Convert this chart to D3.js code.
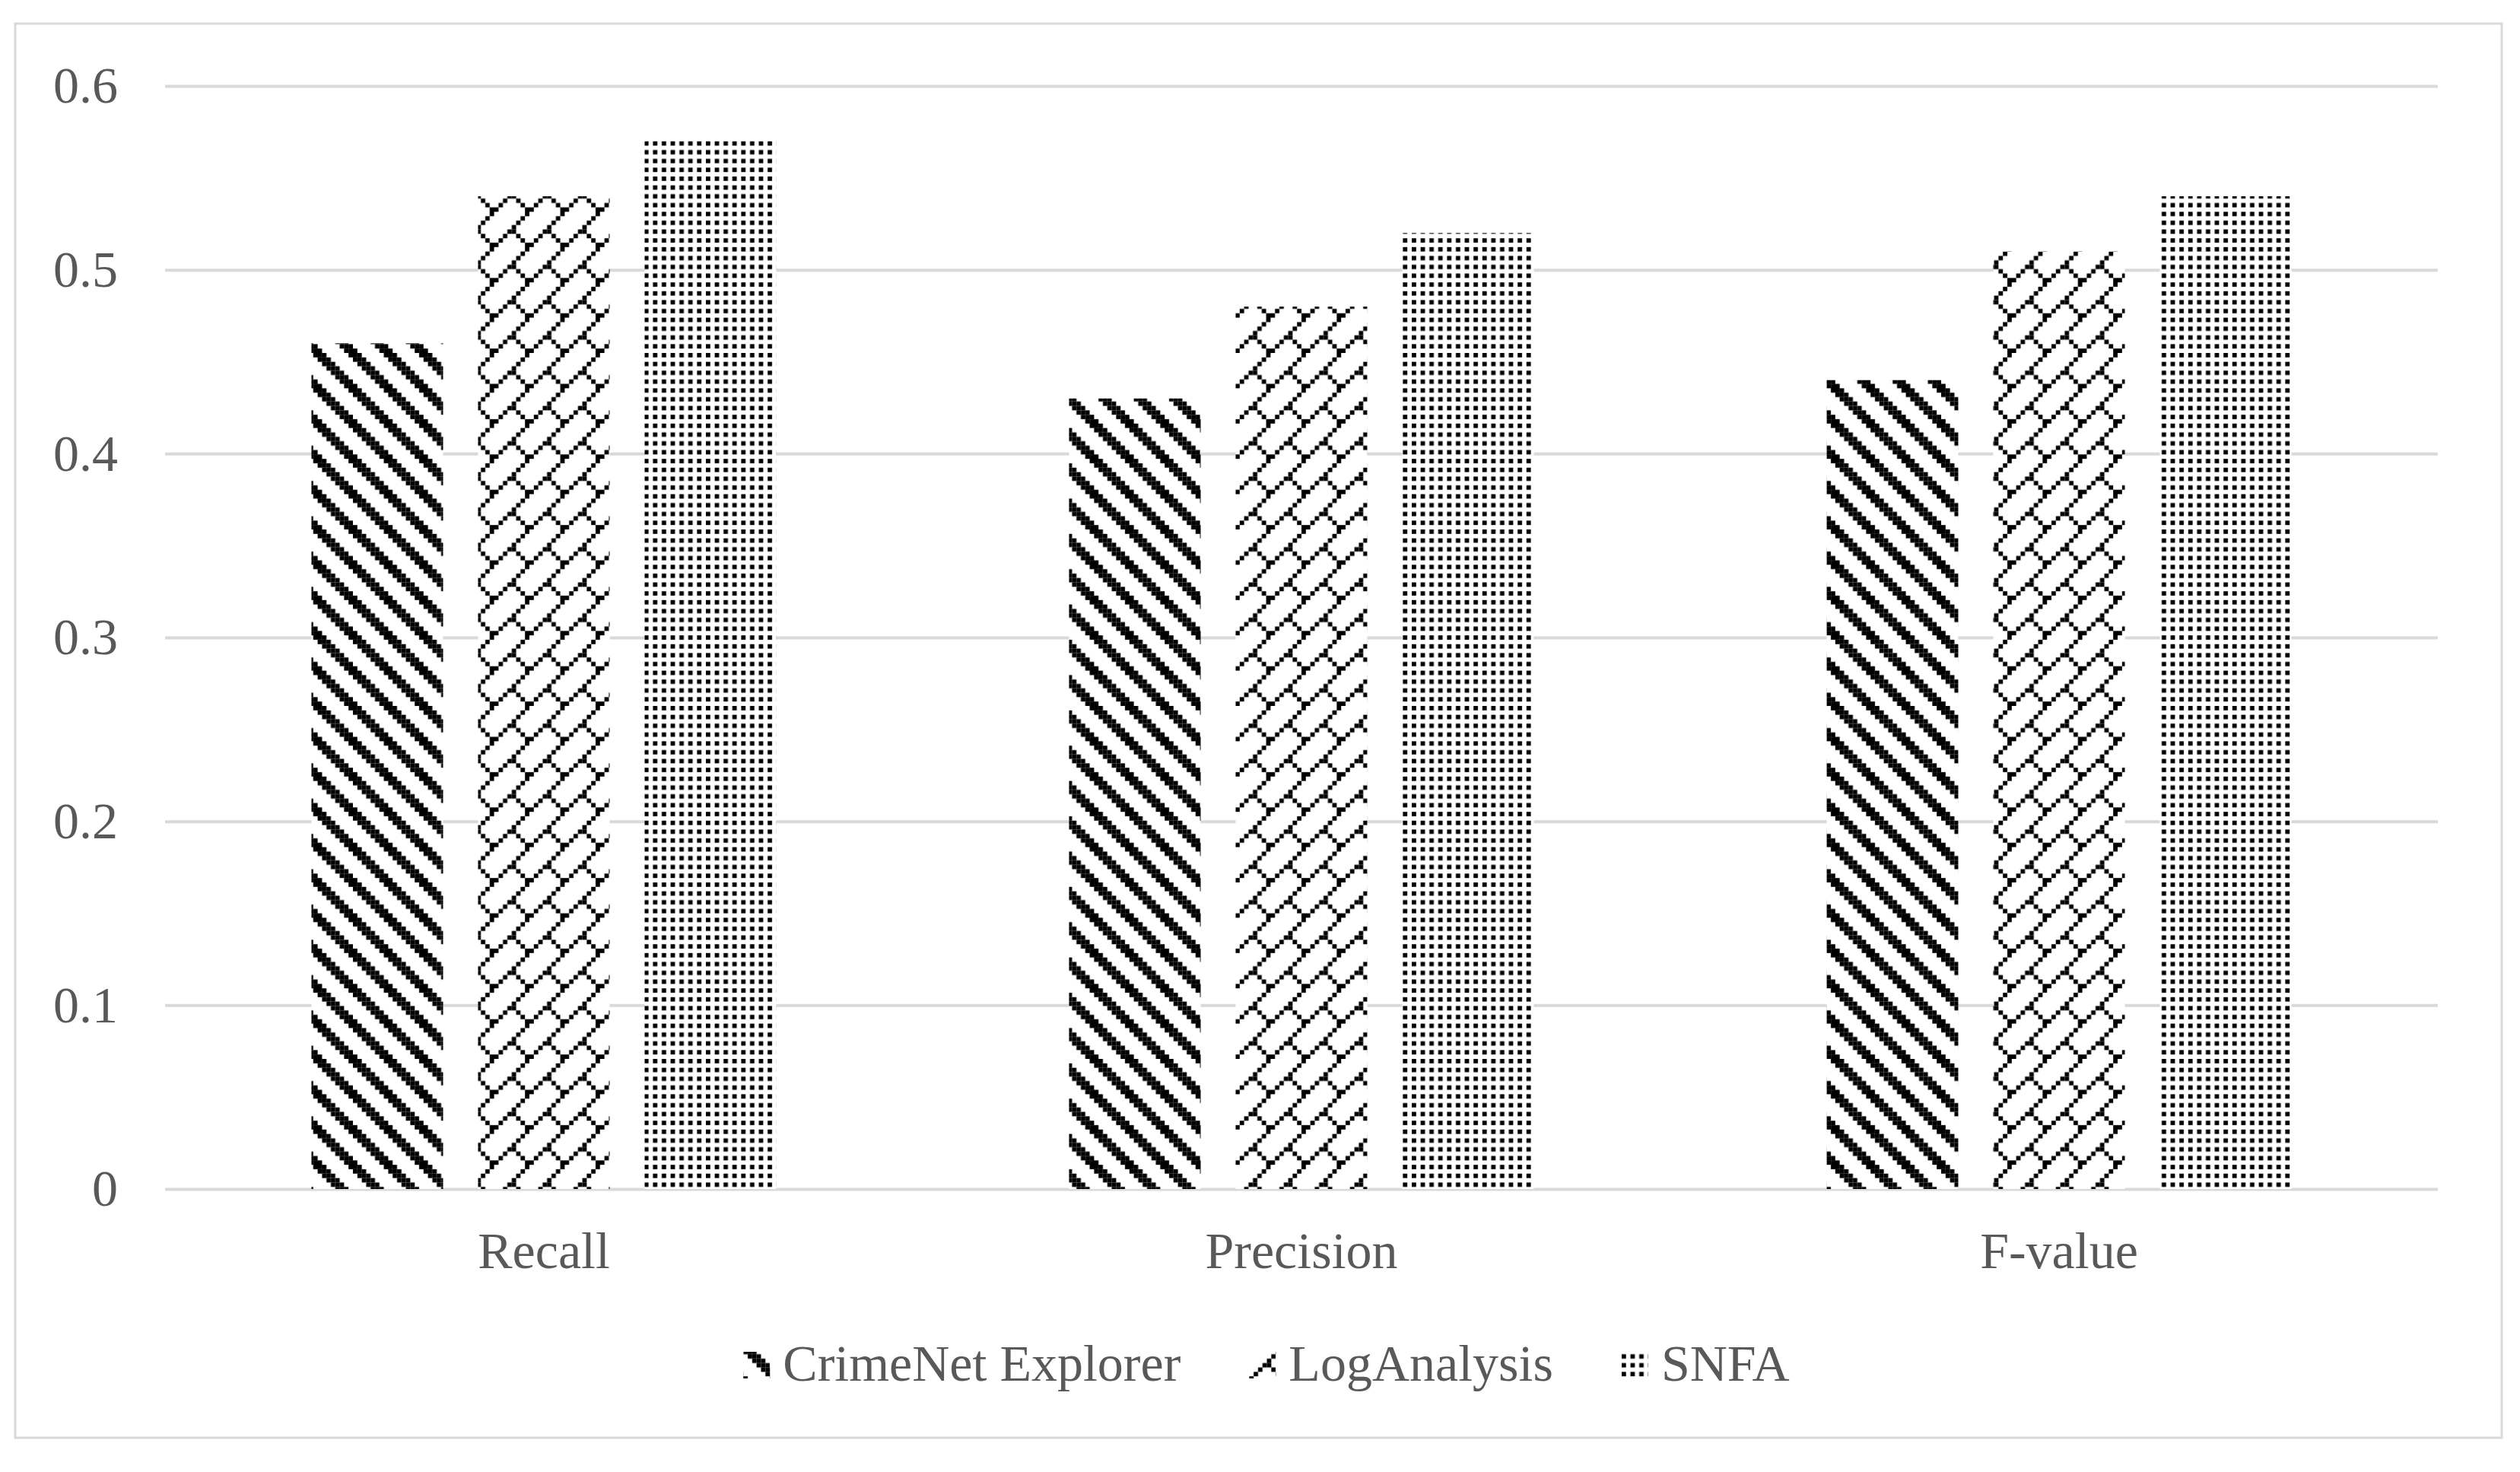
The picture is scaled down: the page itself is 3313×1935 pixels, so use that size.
<!DOCTYPE html>
<html>
<head>
<meta charset="utf-8">
<script src="https://cdn.jsdelivr.net/npm/d3@7"></script>
<style>
  html, body { margin: 0; padding: 0; background: #fff; }
  svg { display: block; }
  text { font-family: "Times New Roman", "Liberation Serif", serif; fill: #595959; }
</style>
</head>
<body>
<svg id="chart"></svg>
<script>
(function() {
    'use strict';

    // Data
    const categories = ['Recall', 'Precision', 'F-value'];
    const seriesNames = ['CrimeNet Explorer', 'LogAnalysis', 'SNFA'];
    const crimeNetValues = [0.46, 0.43, 0.44];
    const logAnalysisValues = [0.54, 0.48, 0.51];
    const snfaValues = [0.57, 0.52, 0.54];
    const yTicks = [0, 0.1, 0.2, 0.3, 0.4, 0.5, 0.6];

    // 8x8 fill patterns (one byte per row, like the office hatch fills)
    const patternBits = {
        wideDownDiag: [0xC1, 0xE0, 0x70, 0x38, 0x1C, 0x0E, 0x07, 0x83],
        diagBrick:    [0x01, 0x02, 0x04, 0x08, 0x18, 0x24, 0x42, 0x81],
        dots:         [0xAA, 0x00, 0xAA, 0x00, 0xAA, 0x00, 0xAA, 0x00]
    };
    const seriesPatterns = ['wideDownDiag', 'diagBrick', 'dots'];

    const width = 3313, height = 1935;
    const margin = { left: 217, right: 3205, top: 113, bottom: 1563 };
    const fontSize = 68;

    const svg = d3.select('#chart')
        .attr('width', width)
        .attr('height', height);

    // Patterns
    const px = 5.8;
    const defs = svg.append('defs');
    Object.keys(patternBits).forEach(name => {
        const p = defs.append('pattern')
            .attr('id', 'pat-' + name)
            .attr('patternUnits', 'userSpaceOnUse')
            .attr('width', 8 * px)
            .attr('height', 8 * px);
        p.append('rect').attr('width', 8 * px).attr('height', 8 * px).attr('fill', '#fff');
        patternBits[name].forEach((row, r) => {
            for (let c = 0; c < 8; c++) {
                if (row & (0x80 >> c)) {
                    p.append('rect')
                        .attr('x', c * px)
                        .attr('y', r * px)
                        .attr('width', px)
                        .attr('height', px)
                        .attr('fill', '#000');
                }
            }
        });
    });

    // Outer border
    svg.append('rect')
        .attr('x', 20).attr('y', 31)
        .attr('width', 3269).attr('height', 1859)
        .attr('fill', '#fff')
        .attr('stroke', '#d9d9d9')
        .attr('stroke-width', 3);

    // Scales
    const x0 = d3.scaleBand()
        .domain(categories)
        .range([margin.left, margin.right])
        .paddingInner(0.3865)
        .paddingOuter(0.19325);

    const x1 = d3.scaleBand()
        .domain(seriesNames)
        .range([0, x0.bandwidth()])
        .paddingInner(0.21);

    const y = d3.scaleLinear()
        .domain([0, 0.6])
        .range([margin.bottom, margin.top]);

    // Y axis with gridlines
    const yAxis = svg.append('g')
        .attr('transform', `translate(${margin.left},0)`)
        .call(d3.axisLeft(y)
            .tickValues(yTicks)
            .tickFormat(d => d === 0 ? '0' : d3.format('.1f')(d))
            .tickSize(-(margin.right - margin.left))
            .tickPadding(62));
    yAxis.select('.domain').remove();
    yAxis.selectAll('.tick line')
        .attr('stroke', '#d9d9d9')
        .attr('stroke-width', 4);
    yAxis.selectAll('.tick text')
        .attr('font-size', fontSize)
        .attr('fill', '#595959')
        .style('font-family', '"Times New Roman", "Liberation Serif", serif');

    // Bars
    const seriesValues = [crimeNetValues, logAnalysisValues, snfaValues];
    const rows = [];
    categories.forEach((cat, ci) => {
        seriesNames.forEach((s, si) => {
            rows.push({ cat: cat, series: s, si: si, value: seriesValues[si][ci] });
        });
    });

    svg.append('g').attr('class', 'bars')
        .selectAll('rect')
        .data(rows)
        .enter()
        .append('rect')
        .attr('x', d => x0(d.cat) + x1(d.series))
        .attr('y', d => y(d.value))
        .attr('width', x1.bandwidth())
        .attr('height', d => y(0) - y(d.value))
        .attr('fill', d => `url(#pat-${seriesPatterns[d.si]})`);

    // X axis labels
    const xAxis = svg.append('g')
        .attr('transform', `translate(0,${margin.bottom})`)
        .call(d3.axisBottom(x0).tickSize(0).tickPadding(56));
    xAxis.select('.domain').remove();
    xAxis.selectAll('.tick text')
        .attr('font-size', fontSize)
        .attr('fill', '#595959')
        .style('font-family', '"Times New Roman", "Liberation Serif", serif');

    // Legend
    const legend = svg.append('g').attr('class', 'legend');
    const iconSize = 35, iconGap = 17, itemGap = 90;
    let lx = 0;
    seriesNames.forEach((name, i) => {
        const item = legend.append('g').attr('transform', `translate(${lx},0)`);
        item.append('rect')
            .attr('x', 0).attr('y', -38)
            .attr('width', iconSize).attr('height', iconSize)
            .attr('fill', `url(#pat-${seriesPatterns[i]})`);
        const t = item.append('text')
            .attr('x', iconSize + iconGap)
            .attr('y', 0)
            .attr('font-size', fontSize)
            .text(name);
        lx += iconSize + iconGap + t.node().getComputedTextLength() + itemGap;
    });
    const legendWidth = lx - itemGap;
    legend.attr('transform', `translate(${1665 - legendWidth / 2},1815)`);
})();
</script>
</body>
</html>
